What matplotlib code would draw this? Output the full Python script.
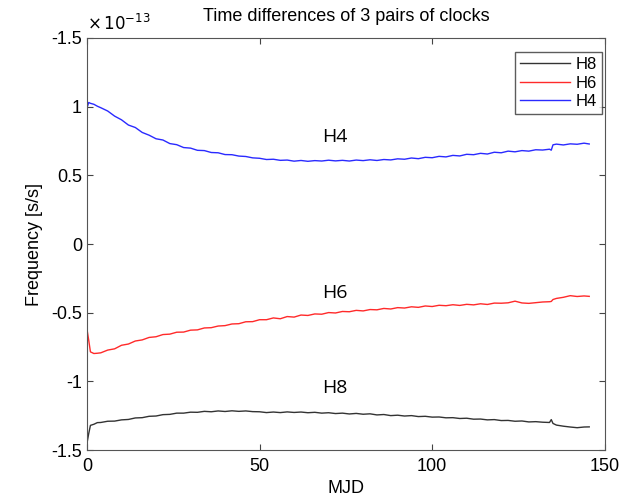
import matplotlib
matplotlib.use('Agg')
import matplotlib.pyplot as plt

# MJD sample points
mjd = [0, 0.5, 1, 2, 3] + list(range(4, 133, 2)) + [134, 134.5, 135, 136, 138, 140, 142, 144, 145.5]

# frequency values, units of 1e-13 s/s
h4 = [0.99, 1.03, 1.024, 1.017, 1.003,
      0.992, 0.968, 0.931, 0.904, 0.866, 0.848, 0.812, 0.792, 0.766, 0.757,
      0.731, 0.723, 0.702, 0.698, 0.682, 0.680, 0.666, 0.664, 0.651, 0.650,
      0.640, 0.637, 0.627, 0.624, 0.615, 0.617, 0.609, 0.611, 0.603, 0.608,
      0.602, 0.607, 0.604, 0.610, 0.605, 0.609, 0.604, 0.611, 0.607, 0.613,
      0.608, 0.615, 0.612, 0.620, 0.617, 0.626, 0.621, 0.631, 0.628, 0.638,
      0.634, 0.645, 0.641, 0.653, 0.650, 0.660, 0.655, 0.668, 0.664, 0.676,
      0.671, 0.680, 0.676, 0.686, 0.684,
      0.690, 0.683, 0.722, 0.727, 0.721, 0.729, 0.726, 0.734, 0.728]

h6 = [-0.62, -0.70, -0.785, -0.797, -0.795,
      -0.792, -0.772, -0.763, -0.737, -0.728, -0.706, -0.698, -0.680, -0.675, -0.659,
      -0.656, -0.642, -0.641, -0.627, -0.625, -0.611, -0.609, -0.597, -0.594, -0.582,
      -0.580, -0.566, -0.565, -0.551, -0.551, -0.538, -0.544, -0.528, -0.532, -0.517,
      -0.520, -0.509, -0.511, -0.499, -0.502, -0.491, -0.493, -0.483, -0.487, -0.477,
      -0.479, -0.469, -0.473, -0.463, -0.466, -0.457, -0.461, -0.451, -0.455, -0.446,
      -0.449, -0.442, -0.447, -0.439, -0.443, -0.435, -0.440, -0.430, -0.431, -0.428,
      -0.416, -0.429, -0.432, -0.427, -0.422,
      -0.420, -0.418, -0.404, -0.396, -0.388, -0.376, -0.382, -0.378, -0.381]

h8 = [-1.45, -1.38, -1.32, -1.312, -1.300,
      -1.299, -1.290, -1.289, -1.280, -1.277, -1.266, -1.264, -1.254, -1.252, -1.242,
      -1.240, -1.231, -1.231, -1.224, -1.225, -1.218, -1.221, -1.215, -1.219, -1.214,
      -1.218, -1.215, -1.220, -1.221, -1.227, -1.223, -1.227, -1.222, -1.226, -1.223,
      -1.228, -1.225, -1.231, -1.228, -1.234, -1.231, -1.237, -1.233, -1.239, -1.236,
      -1.244, -1.241, -1.249, -1.246, -1.252, -1.249, -1.256, -1.254, -1.260, -1.259,
      -1.265, -1.264, -1.270, -1.268, -1.275, -1.274, -1.280, -1.278, -1.285, -1.284,
      -1.290, -1.288, -1.295, -1.293, -1.297,
      -1.299, -1.278, -1.306, -1.318, -1.326, -1.332, -1.337, -1.332, -1.331]

yticks = [-1.5, -1, -0.5, 0, 0.5, 1, 1.5]
ytick_labels = ['-1.5', '-1', '-0.5', '0', '0.5', '1', '-1.5']
xticks = [0, 50, 100, 150]

plt.rcParams['font.family'] = ['Liberation Sans', 'DejaVu Sans']

fig = plt.figure(figsize=(6.28, 4.99), dpi=100)
ax = fig.add_axes([0.1385, 0.098, 0.8245, 0.826])

ax.plot(mjd, h8, color='#333333', lw=1.0, label='H8')
ax.plot(mjd, h6, color='#ff2a2a', lw=1.0, label='H6')
ax.plot(mjd, h4, color='#2a2aff', lw=1.0, label='H4')

ax.set_xlim(0, 150)
ax.set_ylim(-1.5, 1.5)
ax.set_xticks(xticks)
ax.set_yticks(yticks)
ax.set_yticklabels(ytick_labels)
ax.tick_params(direction='in', top=True, right=True, labelsize=13, length=4, color='#444444')
ax.tick_params(axis='x', pad=6)
for s in ax.spines.values():
    s.set_color('#555555')

ax.set_xlabel('MJD', fontsize=13, labelpad=3)
ax.set_ylabel('Frequency [s/s]', fontsize=13, labelpad=6)
ax.set_title('Time differences of 3 pairs of clocks', fontsize=13, pad=12)
ax.text(0.0, 1.012, r'$\times\,10^{-13}$', transform=ax.transAxes, fontsize=12, va='bottom')

for lbl, yv in [('H4', 0.78), ('H6', -0.36), ('H8', -1.05)]:
    ax.text(71.8, yv, lbl, fontsize=14, ha='center', va='center', family='Open Sans')

leg = ax.legend(loc='upper right', fontsize=12, fancybox=False, edgecolor='#333333',
                handlelength=3.0, handletextpad=0.3, borderpad=0.3, labelspacing=0.22,
                borderaxespad=0, bbox_to_anchor=(0.994, 0.966))
leg.get_frame().set_linewidth(1.0)

fig.savefig('out.png', dpi=100)
